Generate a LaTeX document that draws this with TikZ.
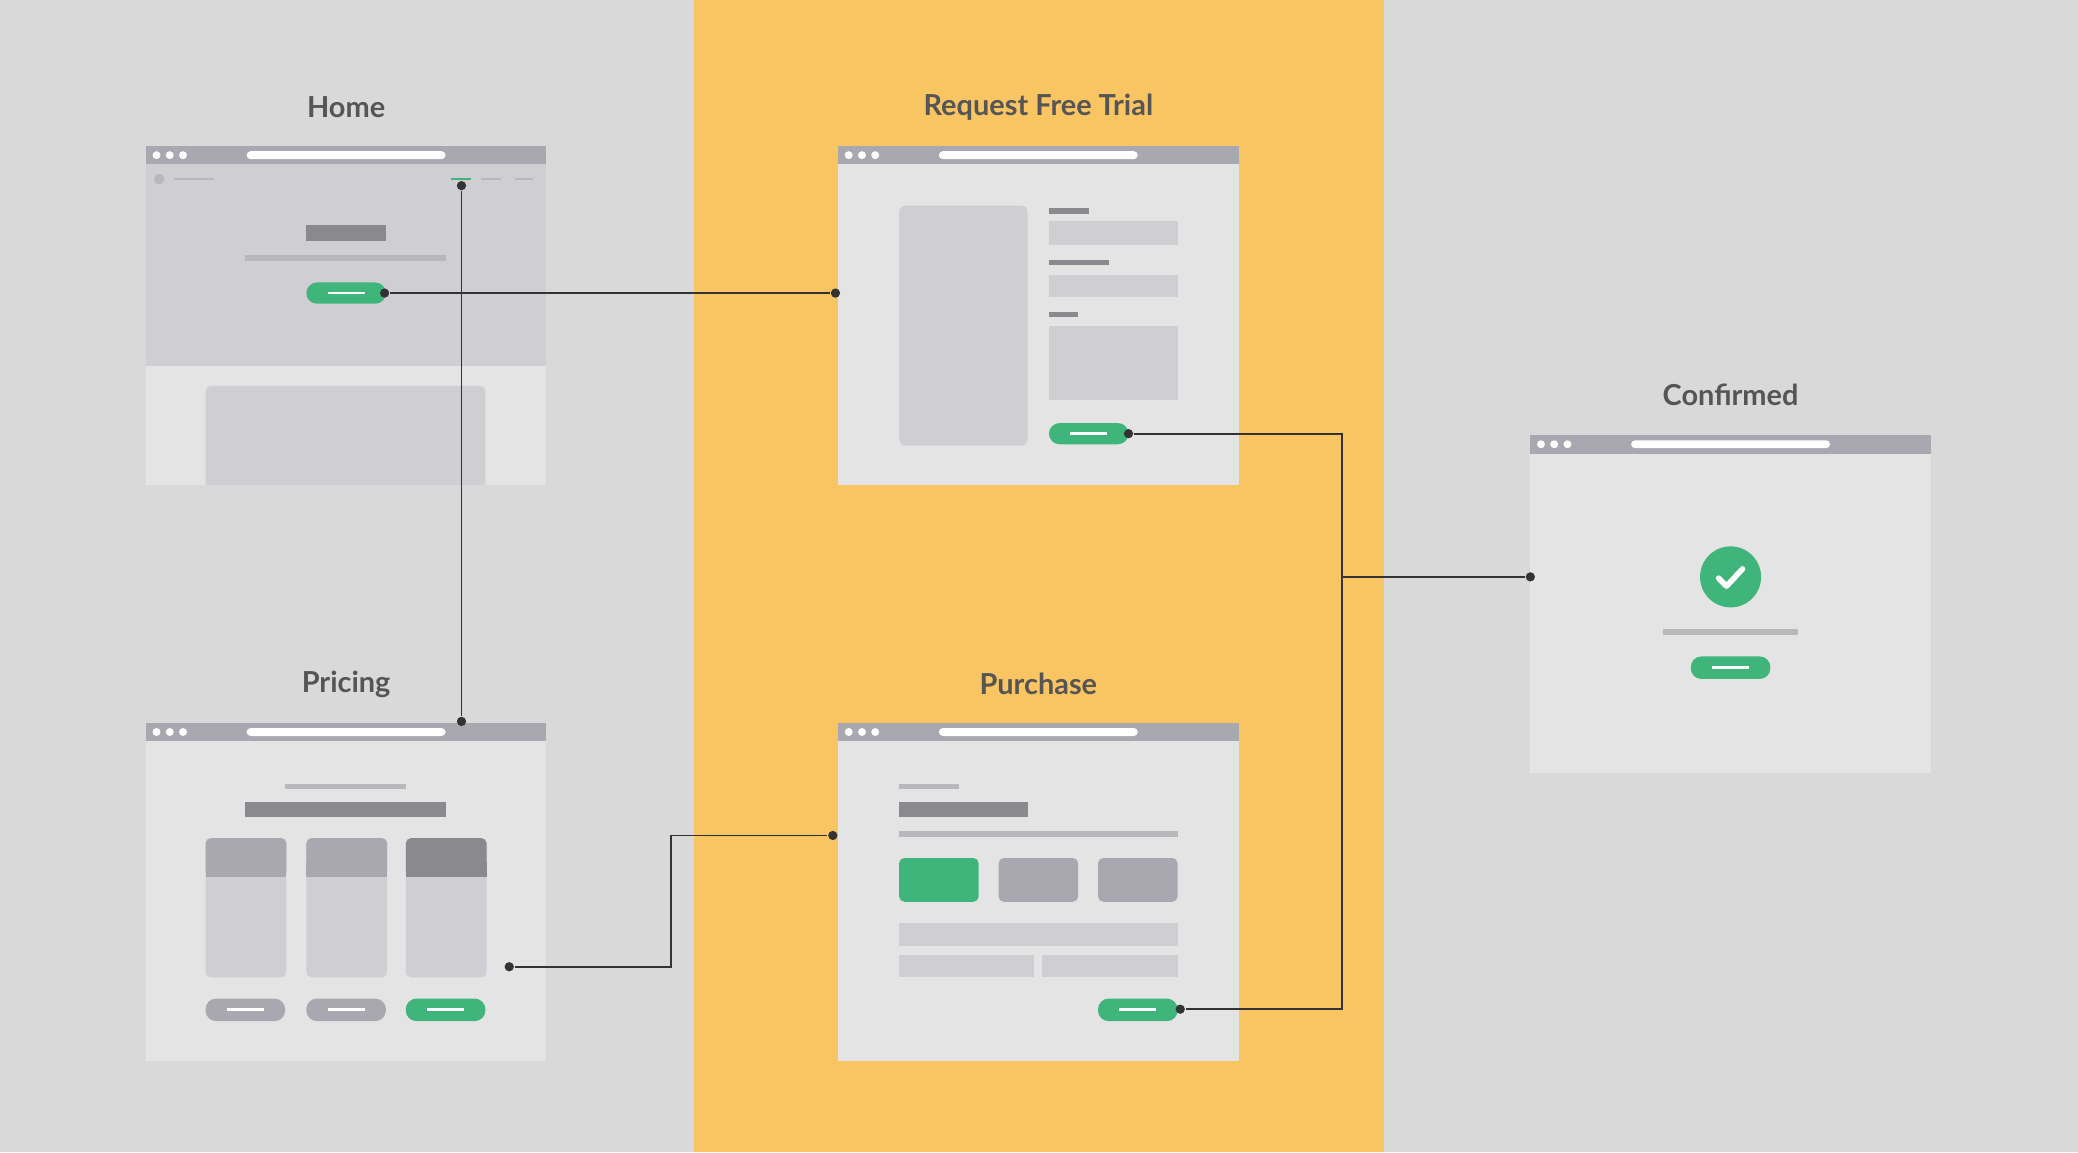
\documentclass[tikz,border=0pt]{standalone}
\usepackage{fontspec}
\setmainfont{Lato}
\definecolor{bggray}{HTML}{D9D9D9}
\definecolor{band}{HTML}{F9C462}
\definecolor{bar}{HTML}{A9A8B0}
\definecolor{page}{HTML}{E4E4E4}
\definecolor{block}{HTML}{CFCED3}
\definecolor{ink}{HTML}{8A8A8E}
\definecolor{faint}{HTML}{B8B8BC}
\definecolor{okgreen}{HTML}{3FB57B}
\definecolor{wire}{HTML}{333333}
\definecolor{title}{HTML}{555555}
\tikzset{
  heading/.style={font=\fontsize{6.2}{7}\selectfont\bfseries, text=title},
  link/.style={draw=wire, line width=0.4pt},
  pin/.style={circle, fill=wire, inner sep=0pt, minimum size=0.07cm},
  pill/.style={rounded corners=0.08cm},
}
% browser window: left x, top y, height
\newcommand\browser[3]{%
  \fill[page] (#1,#2) rectangle ++(302,#3);
  \fill[bar] (#1,#2) rectangle ++(302,14);
  \foreach \d in {8,18,28} \fill[white] (#1+\d,#2+7) circle (0.03cm);
  \fill[white, rounded corners=0.03cm] (#1+76,#2+4) rectangle ++(150,6);
}
% pill button with a white dash
\newcommand\button[4]{%
  \fill[#4, pill] (#1,#2) rectangle ++(60,#3);
  \draw[white, line width=0.6pt] (#1+16,#2+#3/2) -- ++(28,0);
}
\begin{document}
\begin{tikzpicture}[x=0.01cm, y=-0.01cm]
  \fill[bggray] (0,0) rectangle (1567,869);
  \fill[band] (523,0) rectangle (1044,869);
  %headings
  \node[heading] at (261,81) {Home};
  \node[heading] at (783,81) {Request Free Trial};
  \node[heading] at (261,516) {Pricing};
  \node[heading] at (783,516) {Purchase};
  \node[heading] at (1305,298) {Confirmed};
  %home
  \browser{110}{110}{256}
  \fill[block] (110,124) rectangle (412,276);
  \fill[page!90!block] (155,291) rectangle (366,366);
  \fill[block, rounded corners=0.04cm] (155,291) rectangle (366,380);
  \fill[page] (110,366) rectangle (412,382);
  \fill[bggray] (110,366) rectangle (412,382);
  \fill[faint] (120,135) circle (0.04cm);
  \fill[faint] (131,134) rectangle (161,136);
  \fill[okgreen] (340,134) rectangle (355,136);
  \fill[faint] (363,134) rectangle (378,136);
  \fill[faint] (388,134) rectangle (402,136);
  \fill[ink] (231,170) rectangle (291,182);
  \fill[faint] (185,192) rectangle (336,197);
  \button{231}{213}{16}{okgreen}
  %request
  \browser{632}{110}{256}
  \fill[block, rounded corners=0.05cm] (678,155) rectangle (775,336);
  \fill[ink] (791,157) rectangle (821,161);
  \fill[block] (791,167) rectangle (888,185);
  \fill[ink] (791,196) rectangle (836,200);
  \fill[block] (791,207) rectangle (888,224);
  \fill[ink] (791,235) rectangle (813,239);
  \fill[block] (791,246) rectangle (888,302);
  \button{791}{319}{16}{okgreen}
  %pricing
  \browser{110}{545}{255}
  \fill[faint] (215,591) rectangle (306,595);
  \fill[ink] (185,605) rectangle (336,616);
  \foreach \cx/\hd in {155/bar,231/bar,306/ink} {
    \fill[block, rounded corners=0.04cm] (\cx,632) rectangle ++(61,105);
    \fill[\hd, rounded corners=0.04cm] (\cx,632) rectangle ++(61,29);
    \fill[\hd] (\cx,650) rectangle ++(61,11);
  }
  \button{155}{753}{17}{bar}
  \button{231}{753}{17}{bar}
  \button{306}{753}{17}{okgreen}
  %purchase
  \browser{632}{545}{255}
  \fill[faint] (678,591) rectangle (723,595);
  \fill[ink] (678,605) rectangle (775,616);
  \fill[faint] (678,627) rectangle (888,631);
  \fill[okgreen, rounded corners=0.04cm] (678,647) rectangle (738,680);
  \fill[bar, rounded corners=0.04cm] (753,647) rectangle (813,680);
  \fill[bar, rounded corners=0.04cm] (828,647) rectangle (888,680);
  \fill[block] (678,696) rectangle (888,713);
  \fill[block] (678,720) rectangle (780,737);
  \fill[block] (786,720) rectangle (888,737);
  \button{828}{753}{17}{okgreen}
  %confirmed
  \browser{1154}{328}{255}
  \fill[okgreen] (1305,435) circle (0.23cm);
  \draw[white, line width=1.2pt, line cap=round, line join=round]
    (1296,436) -- (1302,442) -- (1314,429);
  \fill[faint] (1254,474) rectangle (1356,479);
  \button{1275}{495}{17}{okgreen}
  %pins
  \node[pin] (homeBtn) at (290,221) {};
  \node[pin] (homeNav) at (348,140) {};
  \node[pin] (trialIn) at (630,221) {};
  \node[pin] (priceIn) at (348,544) {};
  \node[pin] (priceOut) at (384,729) {};
  \node[pin] (buyIn) at (628,630) {};
  \node[pin] (trialBtn) at (851,327) {};
  \node[pin] (buyBtn) at (890,761) {};
  \node[pin] (doneIn) at (1154,435) {};
  \coordinate (merge) at (1012,435);
  %links
  \draw[link] (homeBtn) -- (trialIn);
  \draw[link] (homeNav) -- (priceIn);
  \draw[link] (priceOut) -| (506,630) -- (buyIn);
  \draw[link] (trialBtn) -| (merge) |- (buyBtn);
  \draw[link] (merge) -- (doneIn);
\end{tikzpicture}
\end{document}
